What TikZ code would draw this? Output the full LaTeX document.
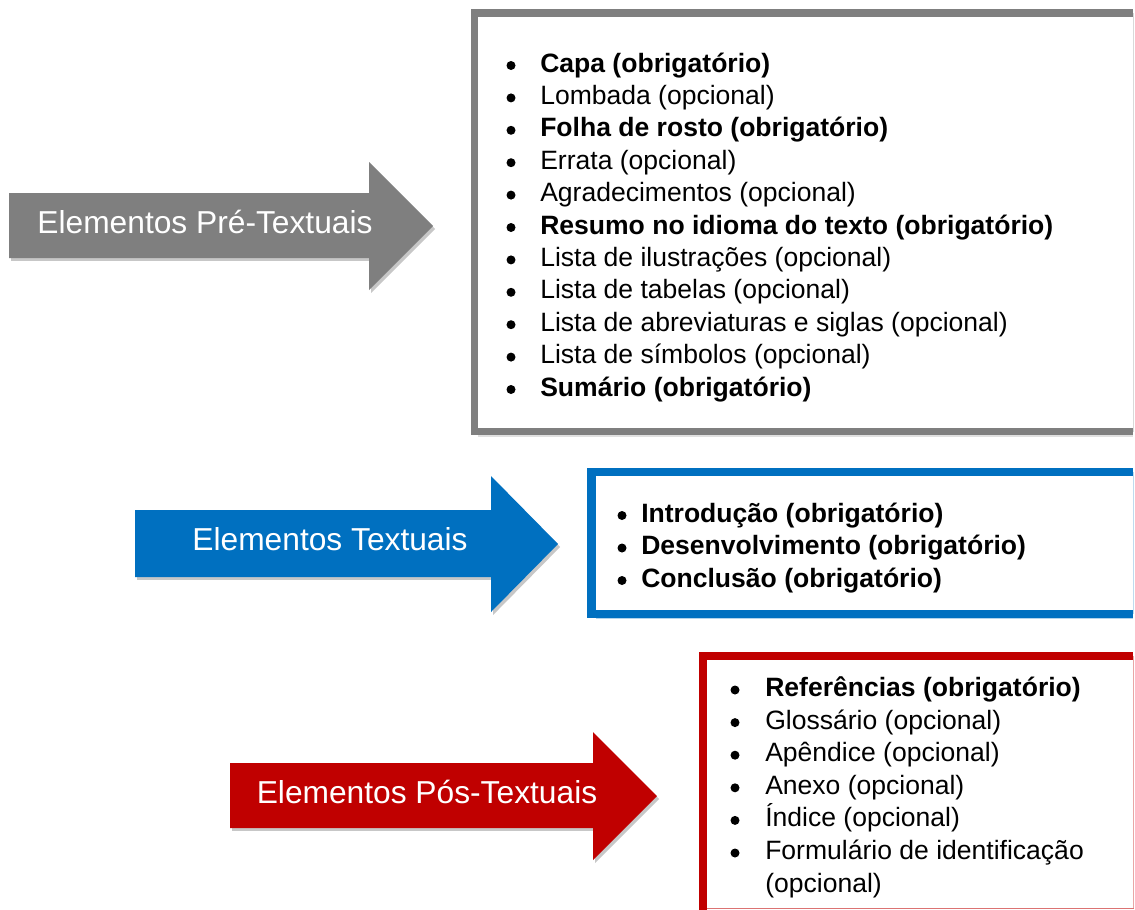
\documentclass[tikz,border=0pt]{standalone}
\usepackage{fontspec}
\setmainfont{Liberation Sans}
\usetikzlibrary{shadows}
\definecolor{cgray}{HTML}{7F7F7F}
\definecolor{cblue}{HTML}{0070C0}
\definecolor{cred}{HTML}{C00000}
\tikzset{
  arrowshape/.style={fill=#1, draw=none,
    drop shadow={shadow xshift=1.6pt, shadow yshift=-2.2pt, opacity=0.22, fill=black}},
  arrowtext/.style={anchor=base, inner sep=0pt, text=white, font=\fontsize{23.8pt}{28pt}\selectfont},
  itemtext/.style={anchor=base west, inner sep=0pt, text=black, font=\fontsize{19.9pt}{24pt}\selectfont},
  bolditem/.style={itemtext, font=\fontsize{19.9pt}{24pt}\selectfont\bfseries},
  bulletdot/.style={fill=black},
  boxedge/.style={line width=#1, line cap=butt, line join=miter},
}
\begin{document}
\begin{tikzpicture}[x=0.75pt,y=-0.75pt]
\useasboundingbox (0,0) rectangle (1135,910);
\fill[white] (0,0) rectangle (1135,910);

% ---------- Gray box ----------
\draw[black!12, line width=1.2pt] (478,435.8) -- (1133,435.8);
\draw[black!15, line width=0.75pt] (1133.6,13) -- (1133.6,431.5);
\draw[cgray, boxedge=5.6pt] (1133.2,13) -- (474.5,13) -- (474.5,431.5) -- (1133.2,431.5);

% ---------- Blue box ----------
\draw[cblue!25, line width=0.75pt] (1133.6,472) -- (1133.6,614);
\draw[cblue!30, line width=1pt] (596,618.8) -- (1133,618.8);
\draw[cblue, boxedge=6.3pt] (1133.2,472) -- (591.5,472) -- (591.5,614) -- (1133.2,614);

% ---------- Red box ----------
\draw[cred!35, line width=0.75pt] (1133.6,656) -- (1133.6,908.5);
\draw[cred!55, line width=0.9pt] (703,908.6) -- (1133.6,908.6);
\draw[cred, boxedge=6pt] (1133.2,656) -- (703,656) -- (703,910);

% ---------- Arrows ----------
\path[arrowshape=cgray] (9,193) -- (369,193) -- (369,162) -- (433,226) -- (369,290) -- (369,258) -- (9,258) -- cycle;
\path[arrowshape=cblue] (135,510) -- (491,510) -- (491,476) -- (558,544) -- (491,612) -- (491,577) -- (135,577) -- cycle;
\path[arrowshape=cred] (230,763) -- (593,763) -- (593,732) -- (657,796) -- (593,860) -- (593,828) -- (230,828) -- cycle;

\node[arrowtext] (pre) at (205,233) {Elementos Pré-Textuais};
\node[arrowtext] (tex) at (330,550) {Elementos Textuais};
\node[arrowtext] (pos) at (427,803) {Elementos Pós-Textuais};

% ---------- Gray list ----------
\foreach \k in {0,...,10} {\fill[bulletdot] (511,72-6.5+32.4*\k) circle (4.5);}
\node[bolditem] (g1) at (540,72.0) {Capa (obrigatório)};
\node[itemtext] (g2) at (540,104.4) {Lombada (opcional)};
\node[bolditem] (g3) at (540,136.8) {Folha de rosto (obrigatório)};
\node[itemtext] (g4) at (540,169.2) {Errata (opcional)};
\node[itemtext] (g5) at (540,201.6) {Agradecimentos (opcional)};
\node[bolditem] (g6) at (540,234.0) {Resumo no idioma do texto (obrigatório)};
\node[itemtext] (g7) at (540,266.4) {Lista de ilustrações (opcional)};
\node[itemtext] (g8) at (540,298.8) {Lista de tabelas (opcional)};
\node[itemtext] (g9) at (540,331.2) {Lista de abreviaturas e siglas (opcional)};
\node[itemtext] (g10) at (540,363.6) {Lista de símbolos (opcional)};
\node[bolditem] (g11) at (540,396.0) {Sumário (obrigatório)};

% ---------- Blue list ----------
\foreach \k in {0,1,2} {\fill[bulletdot] (622,522-6.5+32.5*\k) circle (4.5);}
\node[bolditem] (b1) at (641,522.0) {Introdução (obrigatório)};
\node[bolditem] (b2) at (641,554.5) {Desenvolvimento (obrigatório)};
\node[bolditem] (b3) at (641,587.0) {Conclusão (obrigatório)};

% ---------- Red list ----------
\foreach \k in {0,...,5} {\fill[bulletdot] (735,696.5-6.5+32.6*\k) circle (4.5);}
\node[bolditem] (r1) at (765,696.5) {Referências (obrigatório)};
\node[itemtext] (r2) at (765,729.1) {Glossário (opcional)};
\node[itemtext] (r3) at (765,761.7) {Apêndice (opcional)};
\node[itemtext] (r4) at (765,794.3) {Anexo (opcional)};
\node[itemtext] (r5) at (765,826.9) {Índice (opcional)};
\node[itemtext] (r6) at (765,859.5) {Formulário de identificação};
\node[itemtext] (r7) at (765,892.1) {(opcional)};
\end{tikzpicture}
\end{document}
